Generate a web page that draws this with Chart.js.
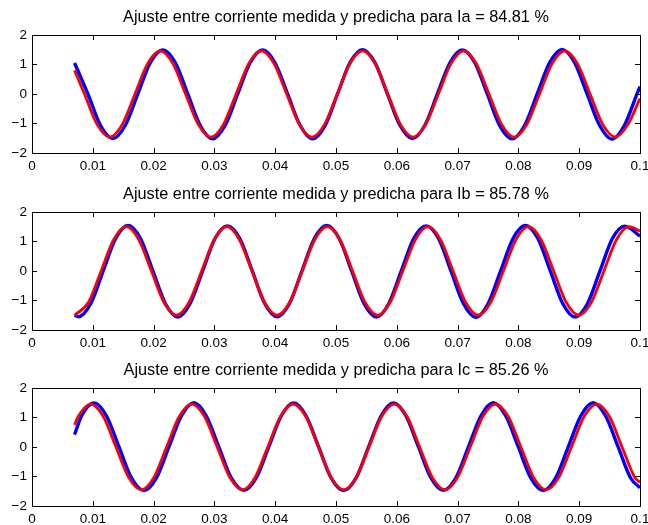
<!DOCTYPE html>
<html>
<head>
<meta charset="utf-8">
<script src="https://cdn.jsdelivr.net/npm/chart.js@4/dist/chart.umd.min.js"></script>
<style>
  body { margin: 0; background: #fff; }
  #fig { position: relative; width: 648px; height: 525px; background: #fff; }
  canvas { position: absolute; left: 0; }
</style>
</head>
<body>
<div id="fig">
  <canvas id="plotIa" width="648" height="180" style="top:0px"></canvas>
  <canvas id="plotIb" width="648" height="180" style="top:177px"></canvas>
  <canvas id="plotIc" width="648" height="180" style="top:353px"></canvas>
</div>
<script>
// Titles (fit percentages)
const titles = [
  'Ajuste entre corriente medida y predicha para Ia = 84.81 %',
  'Ajuste entre corriente medida y predicha para Ib = 85.78 %',
  'Ajuste entre corriente medida y predicha para Ic = 85.26 %'
];

// Ia - predicted (red)
const tIaPred = [0.007, 0.00863, 0.01071, 0.01278, 0.01486, 0.01694, 0.01902, 0.0211, 0.02318, 0.02526, 0.02734, 0.02942, 0.0315, 0.03357, 0.03565, 0.03773, 0.03981, 0.04189, 0.04397, 0.04605, 0.04813, 0.05021, 0.05229, 0.05436, 0.05644, 0.05852, 0.0606, 0.06268, 0.06476, 0.06684, 0.06892, 0.071, 0.07308, 0.07516, 0.07724, 0.07932, 0.0814, 0.08347, 0.08555, 0.08763, 0.08971, 0.09179, 0.09387, 0.09595, 0.09803, 0.1];
const iaPred = [0.8,
  0, -1.03, -1.46, -1.03, 0, 1.03, 1.46, 1.03,
  0, -1.03, -1.46, -1.03, 0, 1.03, 1.46, 1.03,
  0, -1.03, -1.46, -1.03, 0, 1.03, 1.46, 1.03,
  0, -1.03, -1.46, -1.03, 0, 1.03, 1.46, 1.03,
  0, -1.03, -1.46, -1.03, 0, 1.03, 1.46, 1.03,
  0, -1.03, -1.46, -1.03, -0.15];

// Ia - measured (blue)
const tIaMed = [0.007, 0.00919, 0.01125, 0.0133, 0.01535, 0.01741, 0.01946, 0.02151, 0.02356, 0.02562, 0.02767, 0.02972, 0.03178, 0.03383, 0.03588, 0.03793, 0.03999, 0.04204, 0.04409, 0.04614, 0.0482, 0.05025, 0.0523, 0.05435, 0.05641, 0.05846, 0.06051, 0.06256, 0.06462, 0.06667, 0.06872, 0.07077, 0.07283, 0.07488, 0.07693, 0.07898, 0.08104, 0.08309, 0.08514, 0.08719, 0.08925, 0.0913, 0.09335, 0.0954, 0.09745, 0.09951, 0.1];
const iaMed = [1.05,
  0, -1.06, -1.51, -1.06, 0, 1.06, 1.49, 1.06,
  0, -1.07, -1.52, -1.06, 0, 1.06, 1.49, 1.05,
  0, -1.06, -1.52, -1.07, 0, 1.06, 1.5, 1.06,
  0, -1.06, -1.51, -1.06, 0, 1.05, 1.49, 1.06,
  0, -1.07, -1.52, -1.06, 0, 1.06, 1.51, 1.06,
  0, -1.06, -1.53, -1.06, 0, 0.25];

// Ib - predicted (red)
const tIbPred = [0.007, 0.0093, 0.01137, 0.01343, 0.0155, 0.01757, 0.01964, 0.0217, 0.02377, 0.02584, 0.02791, 0.02997, 0.03204, 0.03411, 0.03618, 0.03824, 0.04031, 0.04238, 0.04445, 0.04651, 0.04858, 0.05065, 0.05272, 0.05478, 0.05685, 0.05892, 0.06099, 0.06305, 0.06512, 0.06719, 0.06926, 0.07132, 0.07339, 0.07546, 0.07753, 0.07959, 0.08166, 0.08373, 0.0858, 0.08786, 0.08993, 0.092, 0.09407, 0.09613, 0.0982, 0.1];
const ibPred = [-1.5,
  -1.06, 0, 1.06, 1.5, 1.06, 0, -1.06, -1.5,
  -1.06, 0, 1.06, 1.5, 1.06, 0, -1.06, -1.5,
  -1.06, 0, 1.06, 1.5, 1.06, 0, -1.06, -1.5,
  -1.06, 0, 1.06, 1.5, 1.06, 0, -1.06, -1.5,
  -1.06, 0, 1.06, 1.5, 1.06, 0, -1.06, -1.5,
  -1.06, 0, 1.06, 1.5, 1.35];

// Ib - measured (blue)
const tIbMed = [0.007, 0.00763, 0.00967, 0.01171, 0.01376, 0.0158, 0.01784, 0.01989, 0.02193, 0.02397, 0.02601, 0.02806, 0.0301, 0.03214, 0.03418, 0.03623, 0.03827, 0.04031, 0.04235, 0.0444, 0.04644, 0.04848, 0.05052, 0.05257, 0.05461, 0.05665, 0.05869, 0.06074, 0.06278, 0.06482, 0.06686, 0.06891, 0.07095, 0.07299, 0.07503, 0.07708, 0.07912, 0.08116, 0.0832, 0.08525, 0.08729, 0.08933, 0.09137, 0.09342, 0.09546, 0.0975, 0.1];
const ibMed = [-1.5,
  -1.55, -1.1, 0, 1.1, 1.54, 1.1, 0, -1.1,
  -1.56, -1.1, 0, 1.1, 1.53, 1.1, 0, -1.1,
  -1.55, -1.1, 0, 1.1, 1.54, 1.1, 0, -1.1,
  -1.56, -1.1, 0, 1.1, 1.53, 1.1, 0, -1.1,
  -1.57, -1.1, 0, 1.1, 1.54, 1.1, 0, -1.1,
  -1.56, -1.1, 0, 1.1, 1.52, 1.18];

// Ic - predicted (red)
const tIcPred = [0.007, 0.0076, 0.00965, 0.01173, 0.01381, 0.01589, 0.01797, 0.02006, 0.02214, 0.02422, 0.0263, 0.02838, 0.03046, 0.03254, 0.03462, 0.0367, 0.03878, 0.04087, 0.04295, 0.04503, 0.04711, 0.04919, 0.05127, 0.05335, 0.05543, 0.05751, 0.0596, 0.06168, 0.06376, 0.06584, 0.06792, 0.07, 0.07208, 0.07416, 0.07624, 0.07832, 0.08041, 0.08249, 0.08457, 0.08665, 0.08873, 0.09081, 0.09289, 0.09497, 0.09705, 0.09913, 0.1];
const icPred = [0.75,
  1.03, 1.45, 1.03, 0, -1.03, -1.45, -1.03, 0,
  1.03, 1.45, 1.03, 0, -1.03, -1.45, -1.03, 0,
  1.03, 1.45, 1.03, 0, -1.03, -1.45, -1.03, 0,
  1.03, 1.45, 1.03, 0, -1.03, -1.45, -1.03, 0,
  1.03, 1.45, 1.03, 0, -1.03, -1.45, -1.03, 0,
  1.03, 1.45, 1.03, 0, -1.03, -1.2];

// Ic - measured (blue)
const tIcMed = [0.007, 0.00815, 0.0102, 0.01225, 0.01431, 0.01636, 0.01841, 0.02046, 0.02252, 0.02457, 0.02662, 0.02867, 0.03073, 0.03278, 0.03483, 0.03688, 0.03894, 0.04099, 0.04304, 0.04509, 0.04715, 0.0492, 0.05125, 0.0533, 0.05536, 0.05741, 0.05946, 0.06151, 0.06357, 0.06562, 0.06767, 0.06972, 0.07178, 0.07383, 0.07588, 0.07793, 0.07999, 0.08204, 0.08409, 0.08614, 0.0882, 0.09025, 0.0923, 0.09435, 0.09641, 0.09846, 0.1];
const icMed = [0.42,
  1.05, 1.49, 1.05, 0, -1.05, -1.48, -1.05, 0,
  1.05, 1.5, 1.05, 0, -1.05, -1.47, -1.05, 0,
  1.05, 1.49, 1.05, 0, -1.05, -1.48, -1.05, 0,
  1.05, 1.49, 1.05, 0, -1.05, -1.47, -1.05, 0,
  1.05, 1.5, 1.05, 0, -1.05, -1.48, -1.05, 0,
  1.05, 1.5, 1.05, 0, -1.05, -1.38];

Chart.defaults.font.family = '"Liberation Sans", Arial, Helvetica, sans-serif';
Chart.defaults.color = '#000';

// box around the axes and inward ticks (matlab style)
const boxTicks = {
    id: 'boxTicks',
    afterDraw(chart) {
        const { ctx, chartArea: a, scales: { x, y } } = chart;
        const len = 5;
        ctx.save();
        ctx.strokeStyle = '#000';
        ctx.lineWidth = 1;
        ctx.beginPath();
        x.ticks.forEach(t => {
            const px = Math.round(x.getPixelForValue(t.value)) + 0.5;
            ctx.moveTo(px, a.bottom); ctx.lineTo(px, a.bottom - len);
            ctx.moveTo(px, a.top); ctx.lineTo(px, a.top + len);
        });
        y.ticks.forEach(t => {
            const py = Math.round(y.getPixelForValue(t.value)) + 0.5;
            ctx.moveTo(a.left, py); ctx.lineTo(a.left + len, py);
            ctx.moveTo(a.right, py); ctx.lineTo(a.right - len, py);
        });
        ctx.stroke();
        ctx.strokeRect(Math.round(a.left) + 0.5, Math.round(a.top) + 0.5,
            Math.round(a.right - a.left), Math.round(a.bottom - a.top));
        ctx.restore();
    }
};

const toXY = (ts, vs) => ts.map((t, i) => ({ x: t, y: vs[i] }));

function makePlot(id, title, tMed, med, tPred, pred) {
    const ctx = document.getElementById(id).getContext('2d');
    return new Chart(ctx, {
        type: 'line',
        data: {
            datasets: [{
                label: 'predicha',
                data: toXY(tPred, pred),
                borderColor: '#ff0000',
                borderWidth: 2.8,
                pointRadius: 0,
                cubicInterpolationMode: 'monotone'
            }, {
                label: 'medida',
                data: toXY(tMed, med),
                borderColor: '#0000ff',
                borderWidth: 3.4,
                pointRadius: 0,
                cubicInterpolationMode: 'monotone'
            }]
        },
        options: {
            responsive: false,
            animation: false,
            layout: { padding: 0 },
            plugins: {
                legend: { display: false },
                tooltip: { enabled: false },
                title: {
                    display: true,
                    fullSize: false,
                    text: title,
                    font: { size: 16.3, weight: 'normal' },
                    padding: { top: 8, bottom: 7.4 }
                }
            },
            scales: {
                x: {
                    type: 'linear',
                    min: 0, max: 0.1,
                    grid: { display: false, drawTicks: false },
                    border: { display: false },
                    ticks: {
                        stepSize: 0.01,
                        maxRotation: 0,
                        padding: 5,
                        font: { size: 13.5 },
                        callback: v => String(+v.toFixed(2))
                    },
                    afterFit: s => { s.height = 27; s.paddingRight = 8; s.paddingLeft = 0; }
                },
                y: {
                    min: -2, max: 2,
                    grid: { display: false, drawTicks: false },
                    border: { display: false },
                    ticks: {
                        stepSize: 1,
                        padding: 5,
                        font: { size: 13.5 },
                        callback: v => v < 0 ? '\u2212' + Math.abs(v) : String(v)
                    },
                    afterFit: s => { s.width = 32; }
                }
            }
        },
        plugins: [boxTicks]
    });
}

makePlot('plotIa', titles[0], tIaMed, iaMed, tIaPred, iaPred);
makePlot('plotIb', titles[1], tIbMed, ibMed, tIbPred, ibPred);
makePlot('plotIc', titles[2], tIcMed, icMed, tIcPred, icPred);
</script>
</body>
</html>
